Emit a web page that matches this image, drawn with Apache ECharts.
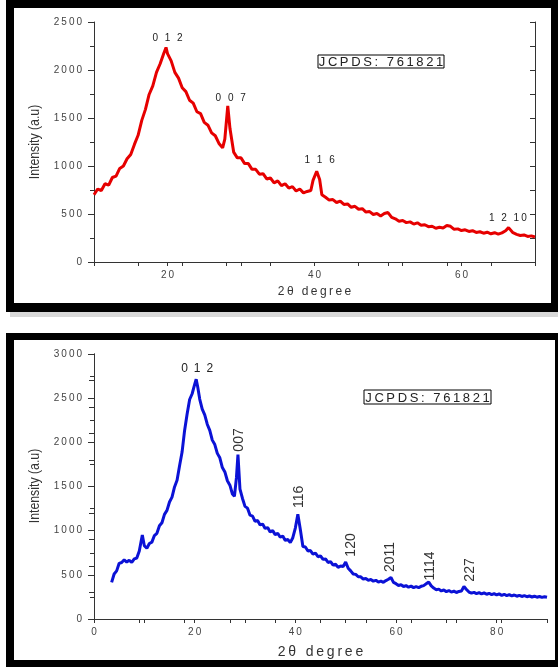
<!DOCTYPE html>
<html>
<head>
<meta charset="utf-8">
<title>XRD patterns</title>
<script src="https://cdn.jsdelivr.net/npm/echarts@6/dist/echarts.min.js"></script>
<style>
  html, body { margin: 0; padding: 0; background: #fff; }
  #main { width: 558px; height: 667px; }
</style>
</head>
<body>
<div id="main"></div>
<script>
  // upper pattern (red)
  const topAngle = [
    10, 10.5, 11, 11.5, 12, 12.5, 13, 13.5, 14, 14.5, 15, 15.5, 16, 16.5, 17, 17.5, 18, 18.5, 19, 19.5, 19.8,
    20, 20.5, 21, 21.5, 22, 22.5, 23, 23.5, 24, 24.5, 25, 25.5, 26, 26.5, 27, 27.5, 27.8, 28.2, 28.5, 29, 29.5,
    30, 30.5, 31, 31.5, 32, 32.5, 33, 33.5, 34, 34.5, 35, 35.5, 36, 36.5, 37, 37.5, 38, 38.5, 39, 39.5, 39.8,
    40.3, 40.7, 41, 41.5, 42, 42.5, 43, 43.5, 44, 44.5, 45, 45.5, 46, 46.5, 47, 47.5, 48, 48.5, 49, 49.5,
    50, 50.5, 51, 51.5, 52, 52.5, 53, 53.5, 54, 54.5, 55, 55.5, 56, 56.5, 57, 57.5, 58, 58.5, 59, 59.5,
    60, 60.5, 61, 61.5, 62, 62.5, 63, 63.5, 64, 64.5, 65, 65.5, 66, 66.4, 67, 67.5, 68, 68.5, 69, 69.5, 70
  ]
  const topIntensity = [
    700, 760, 745, 815, 800, 880, 895, 975, 1000, 1075, 1120, 1225, 1320, 1475, 1590, 1745, 1835, 1975, 2065, 2175, 2235,
    2170, 2095, 1975, 1915, 1815, 1775, 1685, 1655, 1565, 1545, 1455, 1425, 1345, 1315, 1235, 1190, 1280, 1625, 1390, 1145, 1085,
    1085, 1025, 1025, 965, 965, 915, 920, 865, 875, 825, 845, 795, 815, 770, 785, 740, 760, 720, 735, 745, 850,
    945, 860, 700, 675, 645, 650, 620, 635, 600, 605, 570, 580, 550, 555, 520, 525, 495, 505, 480, 505,
    515, 465, 450, 425, 432, 410, 418, 395, 408, 382, 388, 368, 372, 352, 362, 355, 380, 372, 340, 345,
    328, 335, 318, 326, 308, 315, 300, 310, 294, 305, 290, 303, 325, 358, 305, 288, 276, 282, 266, 272, 260
  ]
  const topPeakLabel = ['0 1 2', '0 0 7', '1 1 6', '1 2 10']
  const topPeakAngle = [20.0, 28.6, 40.7, 66.3]
  const topPeakHeight = [2333, 1708, 1062, 458]
  const topXLabels = [20, 40, 60]

  // lower pattern (blue)
  const bottomAngle = [
    3.5, 4, 4.5, 5, 5.5, 6, 6.5, 7, 7.5, 8, 8.5, 9, 9.3, 9.6,
    10, 10.5, 11, 11.5, 12, 12.5, 13, 13.5, 14, 14.5, 15, 15.5, 16, 16.5, 17, 17.5, 18, 18.5, 19, 19.5,
    20, 20.3, 20.6, 21, 21.5, 22, 22.5, 23, 23.5, 24, 24.5, 25, 25.5, 26, 26.5, 27, 27.5, 27.9, 28.3, 28.6, 29, 29.5,
    30, 30.5, 31, 31.5, 32, 32.5, 33, 33.5, 34, 34.5, 35, 35.5, 36, 36.5, 37, 37.5, 38, 38.5, 39, 39.5,
    40, 40.5, 41, 41.5, 42, 42.5, 43, 43.5, 44, 44.5, 45, 45.5, 46, 46.5, 47, 47.5, 48, 48.5, 49, 49.5,
    50, 50.5, 51, 51.5, 52, 52.5, 53, 53.5, 54, 54.5, 55, 55.5, 56, 56.5, 57, 57.5, 58, 58.5, 59, 59.5,
    60, 60.5, 61, 61.5, 62, 62.5, 63, 63.5, 64, 64.5, 65, 65.5, 66, 66.5, 67, 67.5, 68, 68.5, 69, 69.5,
    70, 70.5, 71, 71.5, 72, 72.5, 73, 73.5, 74, 74.5, 75, 75.5, 76, 76.5, 77, 77.5, 78, 78.5, 79, 79.5,
    80, 80.5, 81, 81.5, 82, 82.5, 83, 83.5, 84, 84.5, 85, 85.5, 86, 86.5, 87, 87.5, 88, 88.5, 89, 89.5, 90
  ]
  const bottomIntensity = [
    415, 510, 545, 630, 640, 670, 645, 665, 640, 680, 690, 770, 760, 950,
    830, 800, 855, 870, 945, 970, 1055, 1090, 1185, 1230, 1325, 1380, 1495, 1570, 1735, 1890, 2135, 2320, 2485, 2550,
    2655, 2715, 2630, 2490, 2375, 2310, 2205, 2135, 2025, 1975, 1875, 1825, 1715, 1665, 1565, 1515, 1415, 1390, 1600, 1860, 1470, 1365,
    1275, 1255, 1175, 1165, 1105, 1115, 1065, 1075, 1025, 1035, 985, 1000, 955, 970, 925, 940, 890, 900, 865, 920,
    1030, 1185, 1010, 820, 815, 770, 775, 735, 745, 705, 715, 675, 680, 640, 650, 610, 620, 585, 600, 595,
    645, 575, 545, 510, 505, 478, 478, 452, 458, 438, 448, 428, 438, 418, 428, 415, 435, 450, 470, 415,
    400, 380, 388, 368, 378, 360, 372, 355, 366, 355, 370, 378, 398, 418, 375, 350, 332, 338, 318, 328,
    310, 322, 305, 316, 300, 312, 318, 368, 335, 305, 292, 302, 288, 298, 284, 295, 280, 291, 276, 287,
    272, 284, 268, 280, 265, 276, 262, 272, 258, 268, 255, 264, 252, 261, 249, 258, 247, 255, 245, 252, 246
  ]
  const bottomPeakLabel = ['0 1 2', '007', '116', '120', '2011', '1114', '227']
  const bottomPeakAngle = [20.5, 28.8, 40.7, 51.0, 58.8, 66.7, 74.7]
  const bottomPeakHeight = [2830, 2027, 1382, 838, 702, 600, 555]
  const bottomXLabels = [0, 20, 40, 60, 80]

  const cardText = 'JCPDS: 761821'
  const yName = 'Intensity (a.u)'

  const labelFont = 'Liberation Sans, Arial, sans-serif'
  const axisColor = '#333'

  // Origin 导出图的字距比较宽，用细空格模拟
  function spaced(s) {
    return String(s).split('').join('\u2009')
  }

  function bottomAxis(grid, min, max, labels, nameGap, nameSize) {
    return {
      type: 'value', gridIndex: grid, position: 'bottom', min: min, max: max, interval: 10,
      axisLine: { lineStyle: { color: axisColor } },
      axisTick: { length: 4, lineStyle: { color: axisColor } },
      splitLine: { show: false },
      axisLabel: {
        margin: 8, color: '#444', fontSize: 10, fontFamily: labelFont,
        formatter: v => (labels.indexOf(v) > -1 ? spaced(v) : '')
      },
      name: spaced('2θ degree'), nameLocation: 'middle', nameGap: nameGap,
      nameTextStyle: { color: '#333', fontSize: nameSize, fontFamily: labelFont }
    }
  }

  function topAxis(grid, min, max, step) {
    return {
      type: 'value', gridIndex: grid, position: 'top', min: min, max: max, interval: step,
      axisLine: { lineStyle: { color: axisColor } },
      axisTick: { inside: true, length: 4, lineStyle: { color: axisColor } },
      axisLabel: { show: false },
      splitLine: { show: false }
    }
  }

  function leftAxis(grid, max) {
    return {
      type: 'value', gridIndex: grid, position: 'left', min: 0, max: max, interval: 500,
      axisLine: { show: true, lineStyle: { color: axisColor } },
      axisTick: { show: true, length: 6, lineStyle: { color: axisColor } },
      minorTick: { show: true, splitNumber: 2, length: 4, lineStyle: { color: axisColor } },
      splitLine: { show: false },
      axisLabel: { margin: 12, color: '#444', fontSize: 10, fontFamily: labelFont, formatter: v => spaced(v) }
    }
  }

  function rightAxis(grid, max, step) {
    return {
      type: 'value', gridIndex: grid, position: 'right', min: 0, max: max, interval: step,
      axisLine: { show: true, lineStyle: { color: axisColor } },
      axisTick: { show: true, inside: true, length: 5, lineStyle: { color: axisColor } },
      axisLabel: { show: false },
      splitLine: { show: false }
    }
  }

  function peakMarks(labels, angles, heights, rotated) {
    return {
      symbol: 'circle',
      symbolSize: 1,
      silent: true,
      itemStyle: { color: 'rgba(0,0,0,0)' },
      label: { show: true, position: 'inside', color: '#222', fontFamily: labelFont },
      data: labels.map((t, i) => {
        const flat = !rotated || t.indexOf(' ') > -1
        return {
          coord: [angles[i], heights[i]],
          label: flat
            ? { formatter: rotated ? t.replace(/ /g, '\u2002') : spaced(t), fontSize: rotated ? 12 : 10, rotate: 0 }
            : { formatter: t, fontSize: 14, rotate: 90, color: '#333' }
        }
      })
    }
  }

  function frame(x, y, w, h, side, bottom, right) {
    return [
      { type: 'rect', shape: { x: x, y: y, width: w, height: side }, style: { fill: '#000' } },
      { type: 'rect', shape: { x: x, y: y, width: 8, height: h }, style: { fill: '#000' } },
      { type: 'rect', shape: { x: x + w - right, y: y, width: right, height: h }, style: { fill: '#000' } },
      { type: 'rect', shape: { x: x, y: y + h - bottom, width: w, height: bottom }, style: { fill: '#000' } }
    ]
  }

  function card(x, y, w, h) {
    return [
      { type: 'rect', shape: { x: x, y: y, width: w, height: h }, style: { fill: '#fff', stroke: '#000', lineWidth: 1 } },
      {
        type: 'text', x: x + w / 2, y: y + h / 2 + 1,
        style: { text: spaced(cardText), fill: '#222', fontSize: 13, fontFamily: labelFont, align: 'center', verticalAlign: 'middle' }
      }
    ]
  }

  // 纵轴标题是窄体字，这里用 scaleX 压一下
  function yTitle(cx, cy) {
    return {
      type: 'text', x: cx, y: cy, rotation: Math.PI / 2, scaleX: 0.82,
      style: { text: yName, fill: '#333', fontSize: 15, fontFamily: labelFont, align: 'center', verticalAlign: 'middle' }
    }
  }

  const chart = echarts.init(document.getElementById('main'))

  chart.setOption({
    animation: false,
    backgroundColor: '#fff',
    grid: [
      { left: 94, top: 22, width: 441, height: 240, outerBoundsMode: 'none' },
      { left: 94, top: 354, width: 453, height: 265, outerBoundsMode: 'none' }
    ],
    xAxis: [
      bottomAxis(0, 10, 70, topXLabels, 24, 12),
      topAxis(0, 10, 70, 6),
      bottomAxis(1, 0, 90, bottomXLabels, 26, 14),
      topAxis(1, 0, 90, 9)
    ],
    yAxis: [
      leftAxis(0, 2500),
      rightAxis(0, 2500, 250),
      leftAxis(1, 3000),
      rightAxis(1, 3000, 300)
    ],
    series: [
      {
        type: 'line',
        xAxisIndex: 0,
        yAxisIndex: 0,
        data: topAngle.map((a, i) => [a, topIntensity[i]]),
        symbol: 'none',
        lineStyle: { color: '#e60000', width: 3 },
        markPoint: peakMarks(topPeakLabel, topPeakAngle, topPeakHeight, false)
      },
      {
        type: 'line',
        xAxisIndex: 2,
        yAxisIndex: 2,
        data: bottomAngle.map((a, i) => [a, bottomIntensity[i]]),
        symbol: 'none',
        lineStyle: { color: '#0b12d6', width: 3 },
        markPoint: peakMarks(bottomPeakLabel, bottomPeakAngle, bottomPeakHeight, true)
      }
    ],
    graphic: [
      ...frame(6, 0, 552, 312, 8, 9, 7),
      { type: 'rect', shape: { x: 10, y: 312, width: 548, height: 5 }, style: { fill: '#d8d8d8' } },
      ...frame(6, 333, 552, 334, 7, 7, 3),
      ...card(318, 55, 126, 13),
      ...card(364, 390, 127, 14),
      yTitle(35, 142),
      yTitle(35, 486)
    ]
  })
</script>
</body>
</html>
